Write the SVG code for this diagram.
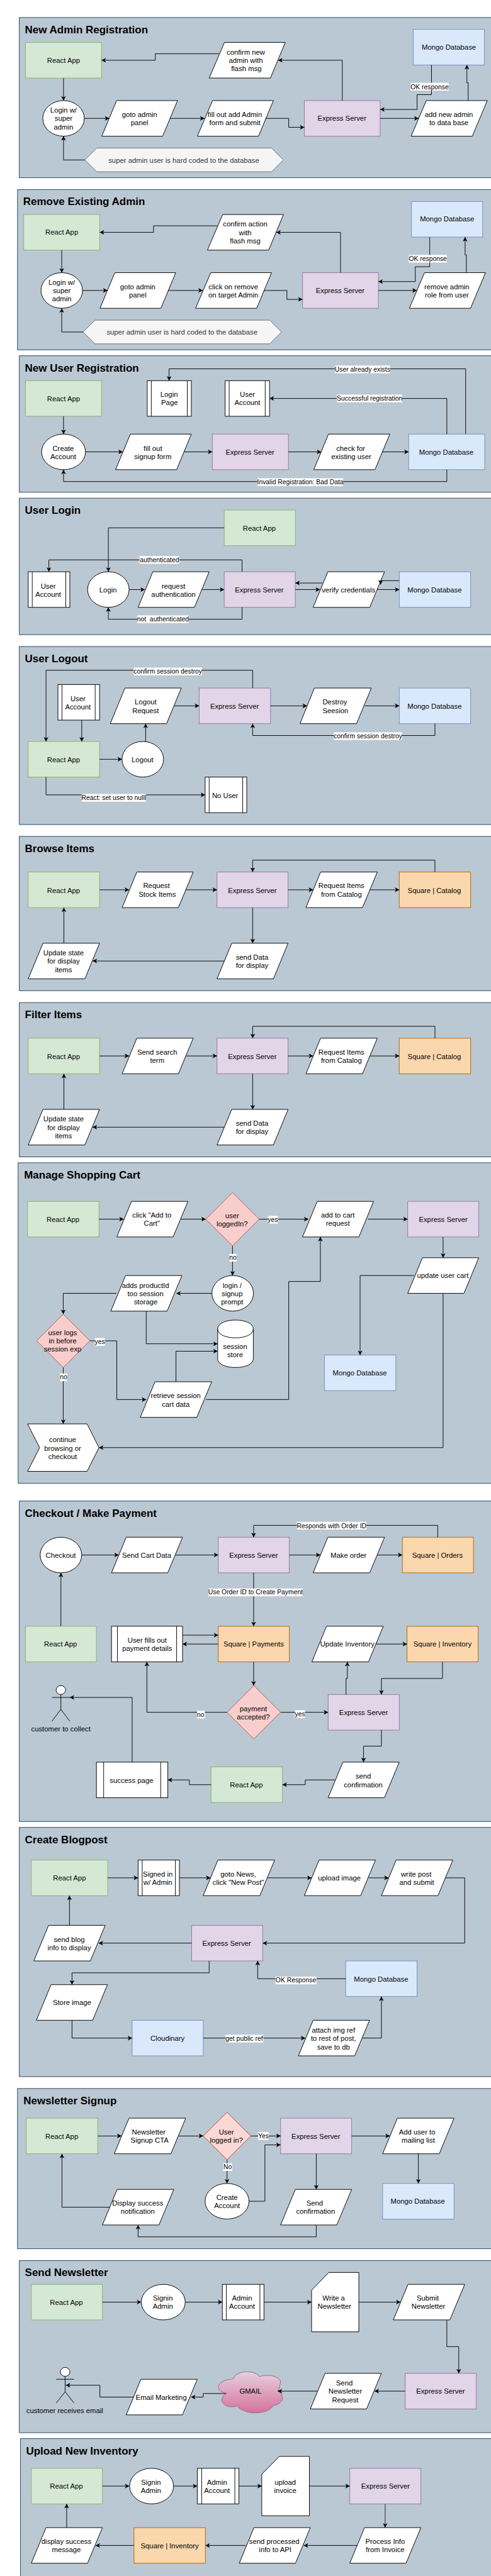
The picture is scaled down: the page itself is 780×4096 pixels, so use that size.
<svg xmlns="http://www.w3.org/2000/svg" width="780" height="4096" viewBox="0 0 780 4096">
<style>
text{font-family:"Liberation Sans",Arial,sans-serif;font-size:12px;fill:#000;text-anchor:middle}
.h{font-size:18px;font-weight:bold;text-anchor:start}
.lt{font-size:11px;white-space:pre}
.lb{fill:#fff;stroke:none}
.panel{fill:#bac8d3;stroke:#23445d;stroke-width:1}
.react{fill:#d5e8d4;stroke:#82b366}
.express{fill:#e1d5e7;stroke:#9673a6}
.mongo{fill:#dae8fc;stroke:#6c8ebf}
.square{fill:#fad7ac;stroke:#b46504}
.dia{fill:#f8cecc;stroke:#b85450}
.w{fill:#fff;stroke:#000}
.hex{fill:#f5f5f5;stroke:#666}
.hext{fill:#333}
.cn path{fill:none;stroke:#000;stroke-width:1;marker-end:url(#a)}
.act{fill:none;stroke:#000}
</style>
<defs>
<marker id="a" markerUnits="userSpaceOnUse" markerWidth="10" markerHeight="10" refX="8" refY="4.5" orient="auto"><path d="M0.5 0.5L8 4.5L0.5 8.5L2.5 4.5Z" fill="#000"/></marker>
<linearGradient id="gm" x1="0" y1="0" x2="0" y2="1"><stop offset="0" stop-color="#e6d0de"/><stop offset="1" stop-color="#d5739d"/></linearGradient>
</defs>
<g transform="scale(0.94317 0.94356)">

<g id="panels">
<rect class="panel" x="32.5" y="29.5" width="810" height="270"/><text class="h" x="42" y="56">New Admin Registration</text>
<rect class="panel" x="29.5" y="319.5" width="810" height="270"/><text class="h" x="39" y="346">Remove Existing Admin</text>
<rect class="panel" x="32.5" y="599.5" width="810" height="230"/><text class="h" x="42" y="626">New User Registration</text>
<rect class="panel" x="32.5" y="839.5" width="810" height="230"/><text class="h" x="42" y="866">User Login</text>
<rect class="panel" x="32.5" y="1089.5" width="810" height="300"/><text class="h" x="42" y="1116">User Logout</text>
<rect class="panel" x="32.5" y="1409.5" width="810" height="260"/><text class="h" x="42" y="1436">Browse Items</text>
<rect class="panel" x="32.5" y="1689.5" width="810" height="260"/><text class="h" x="42" y="1716">Filter Items</text>
<rect class="panel" x="30.5" y="1959.5" width="810" height="540"/><text class="h" x="40.5" y="1986">Manage Shopping Cart</text>
<rect class="panel" x="32.5" y="2529.5" width="810" height="540"/><text class="h" x="42" y="2556">Checkout / Make Payment</text>
<rect class="panel" x="32.5" y="3079.5" width="810" height="420"/><text class="h" x="42" y="3106">Create Blogpost</text>
<rect class="panel" x="29.5" y="3519.5" width="810" height="270"/><text class="h" x="39.5" y="3546">Newsletter Signup</text>
<rect class="panel" x="32.5" y="3809.5" width="810" height="290"/><text class="h" x="42" y="3836">Send Newsletter</text>
<rect class="panel" x="34.5" y="4109.5" width="810" height="260"/><text class="h" x="44" y="4136">Upload New Inventory</text>
</g>

<!-- New Admin Registration -->
<g id="a1-react"><rect class="react" x="43" y="71.5" width="128" height="60"/><text x="107" y="105.5">React App</text></g>
<g id="a1-mongo"><rect class="mongo" x="696" y="49.5" width="120" height="60"/><text x="756" y="83.5">Mongo Database</text></g>
<g id="a1-login"><ellipse class="w" cx="107" cy="199.5" rx="35" ry="30"/><text x="107" y="190">Login w/<tspan x="107" dy="14">super</tspan><tspan x="107" dy="14">admin</tspan></text></g>
<g id="a1-goto"><polygon class="w" points="196.4,169.5 299,169.5 274,229.5 171.4,229.5"/><text x="235" y="197">goto admin<tspan x="235" dy="14">panel</tspan></text></g>
<g id="a1-fill"><polygon class="w" points="358,169.5 460.4,169.5 435.4,229.5 332.4,229.5"/><text x="395.6" y="197">fill out add Admin<tspan x="395.6" dy="14">form and submit</tspan></text></g>
<g id="a1-express"><rect class="express" x="512.6" y="169.5" width="127.7" height="60"/><text x="576" y="204">Express Server</text></g>
<g id="a1-add"><polygon class="w" points="718,169.5 820.7,169.5 795.5,229.5 692.5,229.5"/><text x="756" y="197">add new admin<tspan x="756" dy="14">to data base</tspan></text></g>
<g id="a1-confirm"><polygon class="w" points="378,71.5 480.5,71.5 455.5,131.5 352.3,131.5"/><text x="414" y="92">confirm new<tspan x="414" dy="14">admin with</tspan><tspan x="415" dy="14">flash msg</tspan></text></g>
<g id="a1-hex"><polygon class="hex" points="163,249.5 457.5,249.5 477.3,269.5 457.5,289.5 163,289.5 143,269.5"/><text class="hext" x="309.6" y="274">super admin user is hard coded to the database</text></g>

<!-- Remove Existing Admin -->
<g id="a2-react"><rect class="react" x="40" y="361.5" width="128" height="60"/><text x="104" y="395.5">React App</text></g>
<g id="a2-mongo"><rect class="mongo" x="693" y="339.5" width="120" height="60"/><text x="753" y="373.5">Mongo Database</text></g>
<g id="a2-login"><ellipse class="w" cx="104" cy="489.5" rx="35" ry="30"/><text x="104" y="480">Login w/<tspan x="104" dy="14">super</tspan><tspan x="104" dy="14">admin</tspan></text></g>
<g id="a2-goto"><polygon class="w" points="193.4,459.5 296,459.5 271,519.5 168.4,519.5"/><text x="232" y="487">goto admin<tspan x="232" dy="14">panel</tspan></text></g>
<g id="a2-click"><polygon class="w" points="355,459.5 457.4,459.5 432.4,519.5 329.4,519.5"/><text x="393" y="487">click on remove<tspan x="393" dy="14">on target Admin</tspan></text></g>
<g id="a2-express"><rect class="express" x="509.6" y="459.5" width="127.7" height="60"/><text x="573" y="494">Express Server</text></g>
<g id="a2-remove"><polygon class="w" points="715,459.5 817.7,459.5 792.5,519.5 689.5,519.5"/><text x="752.6" y="487">remove admin<tspan x="752.6" dy="14">role from user</tspan></text></g>
<g id="a2-confirm"><polygon class="w" points="375,361.5 477.5,361.5 452.5,421.5 349.3,421.5"/><text x="413" y="382">confirm action<tspan x="413" dy="14">with</tspan><tspan x="413" dy="14">flash msg</tspan></text></g>
<g id="a2-hex"><polygon class="hex" points="160,539.5 454.5,539.5 474.3,559.5 454.5,579.5 160,579.5 140,559.5"/><text class="hext" x="306.6" y="564">super admin user is hard coded to the database</text></g>

<!-- New User Registration -->
<g id="u1-react"><rect class="react" x="43" y="641.5" width="128" height="60"/><text x="107" y="676">React App</text></g>
<g id="u1-loginpage"><rect class="w" x="248" y="641.5" width="74.3" height="60"/><path class="w" d="M254.8 641.5V701.5M315.4 641.5V701.5"/><text x="284.8" y="669">Login<tspan x="285.5" dy="14">Page</tspan></text></g>
<g id="u1-account"><rect class="w" x="379.2" y="641.5" width="74.8" height="60"/><path class="w" d="M386 641.5V701.5M446.7 641.5V701.5"/><text x="416.7" y="669">User<tspan x="416.7" dy="14">Account</tspan></text></g>
<g id="u1-create"><ellipse class="w" cx="107" cy="761.5" rx="37" ry="30"/><text x="106.5" y="759.5">Create<tspan x="106.5" dy="14">Account</tspan></text></g>
<g id="u1-fill"><polygon class="w" points="219.6,731.5 322.3,731.5 297.5,791.5 194.6,791.5"/><text x="257.4" y="759.5">fill out<tspan x="257.4" dy="14">signup form</tspan></text></g>
<g id="u1-express"><rect class="express" x="357.6" y="731.5" width="128.2" height="60"/><text x="421" y="766">Express Server</text></g>
<g id="u1-check"><polygon class="w" points="553.3,731.5 656.6,731.5 631.6,791.5 528.5,791.5"/><text x="590.7" y="759.5">check for<tspan x="591.7" dy="14">existing user</tspan></text></g>
<g id="u1-mongo"><rect class="mongo" x="688.3" y="731.5" width="128.2" height="60"/><text x="751.6" y="766">Mongo Database</text></g>

<!-- User Login -->
<g id="u2-react"><rect class="react" x="377.6" y="859.5" width="119.8" height="60"/><text x="436.7" y="894">React App</text></g>
<g id="u2-account"><rect class="w" x="47.5" y="963.5" width="70.1" height="60"/><path class="w" d="M54.3 963.5V1023.5M110.8 963.5V1023.5"/><text x="81.2" y="991.5">User<tspan x="81.2" dy="14">Account</tspan></text></g>
<g id="u2-login"><ellipse class="w" cx="182.5" cy="993.5" rx="35" ry="30"/><text x="182" y="998">Login</text></g>
<g id="u2-request"><polygon class="w" points="257.4,963.5 352.3,963.5 327.5,1023.5 232.6,1023.5"/><text x="292.2" y="991.5">request<tspan x="292.2" dy="14">authentication</tspan></text></g>
<g id="u2-express"><rect class="express" x="377.6" y="963.5" width="119.8" height="60"/><text x="436.7" y="998">Express Server</text></g>
<g id="u2-verify"><polygon class="w" points="552.2,963.5 647.7,963.5 622.7,1023.5 527.4,1023.5"/><text x="587" y="998">verify credentials</text></g>
<g id="u2-mongo"><rect class="mongo" x="672.5" y="963.5" width="120.2" height="60"/><text x="732" y="998">Mongo Database</text></g>

<!-- User Logout -->
<g id="u3-account"><rect class="w" x="97.6" y="1153.5" width="70.1" height="60"/><path class="w" d="M104.4 1153.5V1213.5M160.3 1153.5V1213.5"/><text x="131.3" y="1181.5">User<tspan x="131.3" dy="14">Account</tspan></text></g>
<g id="u3-logoutreq"><polygon class="w" points="210.4,1159.5 305.4,1159.5 280.5,1219.5 185.7,1219.5"/><text x="245.3" y="1187.5">Logout<tspan x="245.3" dy="14">Request</tspan></text></g>
<g id="u3-express"><rect class="express" x="335.4" y="1159.5" width="120.3" height="60"/><text x="395" y="1194.5">Express Server</text></g>
<g id="u3-destroy"><polygon class="w" points="529.5,1159.5 625.5,1159.5 600.5,1219.5 505.3,1219.5"/><text x="564" y="1187.5">Destroy<tspan x="565" dy="14">Seesion</tspan></text></g>
<g id="u3-mongo"><rect class="mongo" x="672.5" y="1159.5" width="120.2" height="60"/><text x="732" y="1194.5">Mongo Database</text></g>
<g id="u3-react"><rect class="react" x="47.5" y="1249.5" width="120.2" height="60"/><text x="107" y="1284.5">React App</text></g>
<g id="u3-logout"><ellipse class="w" cx="240.5" cy="1279.5" rx="35" ry="30"/><text x="240" y="1284.5">Logout</text></g>
<g id="u3-nouser"><rect class="w" x="345.5" y="1309.5" width="70.1" height="60"/><path class="w" d="M352.3 1309.5V1369.5M408.8 1309.5V1369.5"/><text x="379.2" y="1344.5">No User</text></g>

<!-- Browse Items -->
<g id="b-react"><rect class="react" x="47.5" y="1469.5" width="120.2" height="60"/><text x="107" y="1504.5">React App</text></g>
<g id="b-request"><polygon class="w" points="230.5,1469.5 325.4,1469.5 300.5,1529.5 205.7,1529.5"/><text x="263.5" y="1497">Request<tspan x="264.8" dy="14">Stock Items</tspan></text></g>
<g id="b-express"><rect class="express" x="365.5" y="1469.5" width="119.7" height="60"/><text x="425" y="1504.5">Express Server</text></g>
<g id="b-items"><polygon class="w" points="540,1469.5 635.5,1469.5 610.5,1529.5 515.3,1529.5"/><text x="575" y="1497">Request Items<tspan x="575" dy="14">from Catalog</tspan></text></g>
<g id="b-square"><rect class="square" x="672.5" y="1469.5" width="120.2" height="60"/><text x="731.5" y="1504.5">Square | Catalog</text></g>
<g id="b-update"><polygon class="w" points="72.3,1589.5 167.7,1589.5 143,1649.5 47.5,1649.5"/><text x="107" y="1610">Update state<tspan x="107" dy="14">for display</tspan><tspan x="107" dy="14">items</tspan></text></g>
<g id="b-send"><polygon class="w" points="390.3,1589.5 485.2,1589.5 460.5,1649.5 365.5,1649.5"/><text x="424.6" y="1617">send Data<tspan x="424.6" dy="14">for display</tspan></text></g>

<!-- Filter Items -->
<g id="f-react"><rect class="react" x="47.5" y="1749.5" width="120.2" height="60"/><text x="107" y="1784.5">React App</text></g>
<g id="f-search"><polygon class="w" points="230.5,1749.5 325.4,1749.5 300.5,1809.5 205.7,1809.5"/><text x="264.8" y="1777">Send search<tspan x="264.8" dy="14">term</tspan></text></g>
<g id="f-express"><rect class="express" x="365.5" y="1749.5" width="119.7" height="60"/><text x="425" y="1784.5">Express Server</text></g>
<g id="f-items"><polygon class="w" points="540,1749.5 635.5,1749.5 610.5,1809.5 515.3,1809.5"/><text x="575" y="1777">Request Items<tspan x="575" dy="14">from Catalog</tspan></text></g>
<g id="f-square"><rect class="square" x="672.5" y="1749.5" width="120.2" height="60"/><text x="731.5" y="1784.5">Square | Catalog</text></g>
<g id="f-update"><polygon class="w" points="72.3,1869.5 167.7,1869.5 143,1929.5 47.5,1929.5"/><text x="107" y="1890">Update state<tspan x="107" dy="14">for display</tspan><tspan x="107" dy="14">items</tspan></text></g>
<g id="f-send"><polygon class="w" points="390.3,1869.5 485.2,1869.5 460.5,1929.5 365.5,1929.5"/><text x="424.6" y="1897">send Data<tspan x="424.6" dy="14">for display</tspan></text></g>

<!-- Manage Shopping Cart -->
<g id="c-react"><rect class="react" x="46.4" y="2024.5" width="120.3" height="60"/><text x="106" y="2059">React App</text></g>
<g id="c-click"><polygon class="w" points="221.5,2024.5 316.5,2024.5 291.5,2084.5 196.7,2084.5"/><text x="255.8" y="2052">click "Add to<tspan x="255.8" dy="14">Cart"</tspan></text></g>
<g id="c-logged"><polygon class="dia" points="391.6,2009.5 436.7,2054.5 391.6,2099.5 346.5,2054.5"/><text x="391" y="2053">user<tspan x="391" dy="14">loggedIn?</tspan></text></g>
<g id="c-add"><polygon class="w" points="534.3,2024.5 629.2,2024.5 604.5,2084.5 509.5,2084.5"/><text x="569" y="2052">add to cart<tspan x="569" dy="14">request</tspan></text></g>
<g id="c-express"><rect class="express" x="686.7" y="2024.5" width="119.7" height="60"/><text x="746.5" y="2059">Express Server</text></g>
<g id="c-update"><polygon class="w" points="711.5,2119.5 806.4,2119.5 781.5,2179.5 686.7,2179.5"/><text x="745.8" y="2154">update user cart</text></g>
<g id="c-prompt"><ellipse class="w" cx="391.9" cy="2179.5" rx="35" ry="30"/><text x="391" y="2170.5">login /<tspan x="391" dy="14">signup</tspan><tspan x="391" dy="14">prompt</tspan></text></g>
<g id="c-adds"><polygon class="w" points="211.5,2149.5 306.4,2149.5 281.5,2209.5 186.7,2209.5"/><text x="245" y="2170.5">adds productId<tspan x="245" dy="14">too session</tspan><tspan x="245.5" dy="14">storage</tspan></text></g>
<g id="c-store"><path class="w" d="M366.6 2239.5C366.6 2219.5 426.7 2219.5 426.7 2239.5V2289.5C426.7 2309.5 366.6 2309.5 366.6 2289.5Z"/><path class="w" fill="none" style="fill:none" d="M366.6 2239.5C366.6 2259.5 426.7 2259.5 426.7 2239.5"/><text x="396" y="2273.5">session<tspan x="396" dy="14">store</tspan></text></g>
<g id="c-logs"><polygon class="dia" points="106.5,2214.5 151.4,2259.5 106.5,2304.5 61.7,2259.5"/><text x="105.5" y="2250">user logs<tspan x="105.5" dy="14">in before</tspan><tspan x="105.5" dy="14">session exp</tspan></text></g>
<g id="c-retrieve"><polygon class="w" points="261,2328.5 356.5,2328.5 331.5,2388.5 236.3,2388.5"/><text x="296" y="2356.5">retrieve session<tspan x="296" dy="14">cart data</tspan></text></g>
<g id="c-mongo"><rect class="mongo" x="546.4" y="2283.5" width="120.3" height="60"/><text x="606" y="2318">Mongo Database</text></g>
<g id="c-continue"><polygon class="w" points="46.4,2399.5 146.6,2399.5 166.7,2439.5 146.6,2479.5 46.4,2479.5 66.8,2439.5"/><text x="105.5" y="2430.5">continue<tspan x="105.5" dy="14">browsing or</tspan><tspan x="105.5" dy="14">checkout</tspan></text></g>

<!-- Checkout / Make Payment -->
<g id="p-checkout"><ellipse class="w" cx="102.6" cy="2620.5" rx="35" ry="30"/><text x="102.3" y="2625">Checkout</text></g>
<g id="p-send"><polygon class="w" points="212.6,2590.5 307.5,2590.5 282.5,2650.5 187.8,2650.5"/><text x="247" y="2625">Send Cart Data</text></g>
<g id="p-express"><rect class="express" x="367.6" y="2590.5" width="119.7" height="60"/><text x="427.2" y="2625">Express Server</text></g>
<g id="p-make"><polygon class="w" points="552.2,2590.5 647.7,2590.5 622.7,2650.5 527.4,2650.5"/><text x="587" y="2625">Make order</text></g>
<g id="p-orders"><rect class="square" x="677.7" y="2590.5" width="119.8" height="60"/><text x="736.8" y="2625">Square | Orders</text></g>
<g id="p-react"><rect class="react" x="42.7" y="2740.5" width="119.7" height="60"/><text x="102" y="2775">React App</text></g>
<g id="p-fills"><rect class="w" x="187.8" y="2740.5" width="119.7" height="60"/><path class="w" d="M197.8 2740.5V2800.5M297.5 2740.5V2800.5"/><text x="248" y="2768.5">User fills out<tspan x="248" dy="14">payment details</tspan></text></g>
<g id="p-payments"><rect class="square" x="367.6" y="2740.5" width="119.7" height="60"/><text x="427.2" y="2775">Square | Payments</text></g>
<g id="p-update"><polygon class="w" points="550,2740.5 645.6,2740.5 620.6,2800.5 525.3,2800.5"/><text x="585" y="2775">Update Inventory</text></g>
<g id="p-inventory"><rect class="square" x="685.6" y="2740.5" width="119.8" height="60"/><text x="745.3" y="2775">Square | Inventory</text></g>
<g id="p-customer"><ellipse class="w" cx="102.5" cy="2848" rx="8" ry="7.5"/><path class="act" d="M102.5 2855.5V2880.5M87.5 2860.5H117.5M102.5 2880.5L87.5 2900.5M102.5 2880.5L117.5 2900.5"/><text x="102.5" y="2918">customer to collect</text></g>
<g id="p-accepted"><polygon class="dia" points="427.5,2840.5 472.6,2885.5 427.5,2930.5 382.4,2885.5"/><text x="426.7" y="2883.5">payment<tspan x="426.7" dy="14">accepted?</tspan></text></g>
<g id="p-express2"><rect class="express" x="552.7" y="2855.5" width="119.8" height="60"/><text x="612.3" y="2890">Express Server</text></g>
<g id="p-success"><rect class="w" x="162.4" y="2969.5" width="120.3" height="60"/><path class="w" d="M174.6 2969.5V3029.5M270.6 2969.5V3029.5"/><text x="221.5" y="3004.5">success page</text></g>
<g id="p-react2"><rect class="react" x="355.5" y="2977.5" width="120.2" height="60"/><text x="415" y="3012">React App</text></g>
<g id="p-confirm"><polygon class="w" points="577.5,2969.5 672.5,2969.5 647.5,3029.5 552.7,3029.5"/><text x="611.8" y="2997.5">send<tspan x="611.8" dy="14">confirmation</tspan></text></g>

<!-- Create Blogpost -->
<g id="g-react"><rect class="react" x="52.7" y="3134.5" width="128.7" height="60"/><text x="117" y="3169">React App</text></g>
<g id="g-signed"><rect class="w" x="232.6" y="3134.5" width="69.6" height="60"/><path class="w" d="M239.5 3134.5V3194.5M295.4 3134.5V3194.5"/><text x="265.8" y="3162">Signed in<tspan x="265.8" dy="14">w/ Admin</tspan></text></g>
<g id="g-goto"><polygon class="w" points="367,3134.5 462.6,3134.5 437.6,3194.5 342.3,3194.5"/><text x="401.4" y="3162">goto News,<tspan x="401.4" dy="14">click "New Post"</tspan></text></g>
<g id="g-upload"><polygon class="w" points="537.4,3134.5 632.4,3134.5 607.4,3194.5 512.6,3194.5"/><text x="571.7" y="3169">upload image</text></g>
<g id="g-write"><polygon class="w" points="667.2,3134.5 762.7,3134.5 737.7,3194.5 642.4,3194.5"/><text x="701" y="3162">write post<tspan x="702" dy="14">and submit</tspan></text></g>
<g id="g-express"><rect class="express" x="322.8" y="3244.5" width="119.7" height="60"/><text x="381.9" y="3279">Express Server</text></g>
<g id="g-send"><polygon class="w" points="81.8,3244.5 177.2,3244.5 152.2,3304.5 57,3304.5"/><text x="116.6" y="3272.5">send blog<tspan x="116.6" dy="14">info to display</tspan></text></g>
<g id="g-store"><polygon class="w" points="86,3344.5 181,3344.5 156,3404.5 61.2,3404.5"/><text x="121.3" y="3379">Store image</text></g>
<g id="g-mongo"><rect class="mongo" x="582.3" y="3304.5" width="120.2" height="60"/><text x="641.9" y="3339">Mongo Database</text></g>
<g id="g-cloud"><rect class="mongo" x="222.6" y="3404.5" width="119.7" height="60"/><text x="282.2" y="3439">Cloudinary</text></g>
<g id="g-attach"><polygon class="w" points="527.4,3404.5 622.4,3404.5 597.4,3464.5 502.6,3464.5"/><text x="561.7" y="3425.5">attach img ref<tspan x="561.7" dy="14">to rest of post,</tspan><tspan x="561.7" dy="14">save to db</tspan></text></g>

<!-- Newsletter Signup -->
<g id="n-react"><rect class="react" x="44.3" y="3569.5" width="120.3" height="60"/><text x="104" y="3604">React App</text></g>
<g id="n-cta"><polygon class="w" points="217.3,3569.5 312.8,3569.5 287.8,3629.5 192.5,3629.5"/><text x="250.5" y="3597">Newsletter<tspan x="252" dy="14">Signup CTA</tspan></text></g>
<g id="n-logged"><polygon class="dia" style="fill:#fad9d5;stroke:#ae4132" points="382.4,3559.5 422.5,3599.5 382.4,3639.5 342.3,3599.5"/><text x="381.3" y="3597">User<tspan x="381.3" dy="14">logged in?</tspan></text></g>
<g id="n-express"><rect class="express" x="472.6" y="3569.5" width="119.7" height="60"/><text x="532" y="3604">Express Server</text></g>
<g id="n-add"><polygon class="w" points="669.3,3569.5 764.8,3569.5 739.8,3629.5 644.5,3629.5"/><text x="702.5" y="3597">Add user to<tspan x="704.5" dy="14">mailing list</tspan></text></g>
<g id="n-mongo"><rect class="mongo" x="644.5" y="3679.5" width="120.3" height="60"/><text x="703.6" y="3714">Mongo Database</text></g>
<g id="n-create"><ellipse class="w" cx="382.4" cy="3709.5" rx="37" ry="30"/><text x="382.4" y="3707">Create<tspan x="382.4" dy="14">Account</tspan></text></g>
<g id="n-confirm"><polygon class="w" points="497.4,3689.5 592.3,3689.5 567.3,3749.5 472.6,3749.5"/><text x="530" y="3717">Send<tspan x="531.6" dy="14">confirmation</tspan></text></g>
<g id="n-display"><polygon class="w" points="197.3,3689.5 292.7,3689.5 267.7,3749.5 172.5,3749.5"/><text x="232" y="3717">Display success<tspan x="232" dy="14">notification</tspan></text></g>

<!-- Send Newsletter -->
<g id="s-react"><rect class="react" x="52.7" y="3849.5" width="119.8" height="60"/><text x="111.8" y="3884">React App</text></g>
<g id="s-signin"><ellipse class="w" cx="275" cy="3879.5" rx="37" ry="30"/><text x="274.3" y="3877">Signin<tspan x="274.3" dy="14">Admin</tspan></text></g>
<g id="s-account"><rect class="w" x="374.5" y="3849.5" width="70.1" height="60"/><path class="w" d="M381.3 3849.5V3909.5M437.8 3849.5V3909.5"/><text x="407.7" y="3877">Admin<tspan x="407.7" dy="14">Account</tspan></text></g>
<g id="s-write"><polygon class="w" points="553.8,3829.5 604.4,3829.5 604.4,3929.5 524.8,3929.5 524.8,3859.5"/><text x="562" y="3877">Write a<tspan x="563.3" dy="14">Newsletter</tspan></text></g>
<g id="s-submit"><polygon class="w" points="687.2,3849.5 782.7,3849.5 757.7,3909.5 662.4,3909.5"/><text x="720.5" y="3877">Submit<tspan x="721.5" dy="14">Newsletter</tspan></text></g>
<g id="s-express"><rect class="express" x="682.5" y="3999.5" width="119.7" height="60"/><text x="742" y="4034">Express Server</text></g>
<g id="s-request"><polygon class="w" points="547.5,3999.5 642.4,3999.5 617.4,4059.5 522.7,4059.5"/><text x="580" y="4020">Send<tspan x="581.5" dy="14">Newsletter</tspan><tspan x="581.5" dy="14">Request</tspan></text></g>
<g id="s-gmail"><path d="M393 4009C394 3998 425 3990 437 4005C450 4000 476 4004 472 4017C471 4022 470 4026 468 4029C477 4033 482 4050 460 4054C452 4069 412 4071 399 4054C385 4061 362 4048 381 4033C362 4030 362 4011 393 4009Z" fill="url(#gm)" stroke="#996185"/><text x="422" y="4034">GMAIL</text></g>
<g id="s-email"><polygon class="w" points="237.3,4009.5 332.3,4009.5 307.3,4069.5 212.6,4069.5"/><text x="271.6" y="4044.5">Email Marketing</text></g>
<g id="s-customer"><ellipse class="w" cx="109.7" cy="3997" rx="8" ry="7.5"/><path class="act" d="M109.7 4004.5V4030.5M94.7 4009.5H124.7M109.7 4030.5L94.7 4049.5M109.7 4030.5L124.7 4049.5"/><text x="109" y="4067">customer receives email</text></g>

<!-- Upload New Inventory -->
<g id="i-react"><rect class="react" x="52.7" y="4159.5" width="119.8" height="60"/><text x="111.8" y="4194">React App</text></g>
<g id="i-signin"><ellipse class="w" cx="255.3" cy="4189.5" rx="37" ry="30"/><text x="254.2" y="4187">Signin<tspan x="254.2" dy="14">Admin</tspan></text></g>
<g id="i-account"><rect class="w" x="332.3" y="4159.5" width="70.1" height="60"/><path class="w" d="M339.7 4159.5V4219.5M395.6 4159.5V4219.5"/><text x="365.5" y="4187">Admin<tspan x="365.5" dy="14">Account</tspan></text></g>
<g id="i-upload"><polygon class="w" points="470.5,4139.5 521.1,4139.5 521.1,4239.5 440.9,4239.5 440.9,4169.5"/><text x="480.5" y="4187">upload<tspan x="480.5" dy="14">invoice</tspan></text></g>
<g id="i-express"><rect class="express" x="589.1" y="4159.5" width="119.8" height="60"/><text x="649.3" y="4194">Express Server</text></g>
<g id="i-process"><polygon class="w" points="614,4259.5 708.9,4259.5 684,4319.5 589.1,4319.5"/><text x="648.7" y="4287">Process Info<tspan x="648.7" dy="14">from Invoice</tspan></text></g>
<g id="i-send"><polygon class="w" points="427.7,4259.5 522.7,4259.5 497.7,4319.5 403,4319.5"/><text x="462" y="4287">send processed<tspan x="463.5" dy="14">info to API</tspan></text></g>
<g id="i-inventory"><rect class="square" x="225.7" y="4259.5" width="120.3" height="60"/><text x="285.9" y="4294">Square | Inventory</text></g>
<g id="i-display"><polygon class="w" points="77.5,4259.5 172.5,4259.5 147.5,4319.5 52.7,4319.5"/><text x="111.8" y="4287">display success<tspan x="111.8" dy="14">message</tspan></text></g>

<g id="connectors" class="cn">
<!-- admin 1 -->
<path d="M107 131.5V169.5"/><path d="M142 199.5H184"/><path d="M286.4 199.5H344.4"/><path d="M447.3 199.5H486.3V214.5H512.6"/><path d="M640.3 199.5H705"/><path d="M788.5 169.5V139.5H786.4V109.5"/><path d="M726.8 109.5V159.5H702.5V184.5H640.3"/><path d="M576.5 169.5V101.5H468.4"/><path d="M369 90.5H261.6V101.5H171"/><path d="M143 269.5H107V229.5"/>
<!-- admin 2 -->
<path d="M104 421.5V459.5"/><path d="M139 489.5H181"/><path d="M283.4 489.5H341.4"/><path d="M444.3 489.5H483.3V504.5H509.6"/><path d="M637.3 489.5H702"/><path d="M785.5 459.5V429.5H783.4V399.5"/><path d="M723.8 399.5V449.5H699.5V474.5H637.3"/><path d="M573.5 459.5V391.5H465.4"/><path d="M366 380.5H258.6V391.5H168"/><path d="M140 559.5H104V519.5"/>
<!-- new user -->
<path d="M107 701.5V731.5"/><path d="M144 761.5H206.8"/><path d="M310 761.5H357.6"/><path d="M485.8 761.5H541"/><path d="M644.5 761.5H688.3"/><path d="M784.3 731.5V621.5H284.8V641.5"/><path d="M752.6 731.5V671.5H454"/><path d="M752.6 791.5V811.5H107V791.5"/>
<!-- login -->
<path d="M377.6 889.5H182.5V963.5"/><path d="M217.5 993.5H244"/><path d="M340.7 993.5H377.6"/><path d="M497.4 993.5H539"/><path d="M635.5 993.5H672.5"/><path d="M672.5 978.5H641V985"/><path d="M543 982.5H497.4"/><path d="M407.7 963.5V943.5H82.3V963.5"/><path d="M407.7 1023.5V1043.5H182.5V1023.5"/>
<!-- logout -->
<path d="M425.6 1159.5V1129.5H77.5V1249.5"/><path d="M137.7 1213.5V1249.5"/><path d="M293.2 1189.5H335.4"/><path d="M455.7 1189.5H517"/><path d="M614.5 1189.5H672.5"/><path d="M732.6 1219.5V1239.5H425.6V1219.5"/><path d="M167.7 1279.5H205.5"/><path d="M245.3 1249.5V1219.5"/><path d="M77.5 1309.5V1339.5H345.5"/>
<!-- browse -->
<path d="M167.7 1499.5H217.3"/><path d="M313.3 1499.5H365.5"/><path d="M485.2 1499.5H527.4"/><path d="M623.4 1499.5H672.5"/><path d="M732.6 1469.5V1449.5H425.6V1469.5"/><path d="M425.6 1529.5V1589.5"/><path d="M377.6 1619.5H156"/><path d="M107.6 1589.5V1529.5"/>
<!-- filter -->
<path d="M167.7 1779.5H217.3"/><path d="M313.3 1779.5H365.5"/><path d="M485.2 1779.5H527.4"/><path d="M623.4 1779.5H672.5"/><path d="M732.6 1749.5V1729.5H425.6V1749.5"/><path d="M425.6 1809.5V1869.5"/><path d="M377.6 1899.5H156"/><path d="M107.6 1869.5V1809.5"/>
<!-- cart -->
<path d="M166.7 2054.5H208.3"/><path d="M304.9 2054.5H346.5"/><path d="M436.7 2054.5H519.5"/><path d="M619.7 2054.5H686.7"/><path d="M746.3 2084.5V2119.5"/><path d="M697.3 2149.5H606.5V2283.5"/><path d="M746.3 2179.5V2439.5H166.7"/><path d="M391.6 2099.5V2149.5"/><path d="M357 2179.5H297"/><path d="M196.2 2179.5H106.5V2214.5"/><path d="M246.3 2209.5V2264.5H366.6"/><path d="M296.4 2328.5V2277H366.6"/><path d="M151.4 2259.5H196.7V2358.5H246.3"/><path d="M106.5 2304.5V2399.5"/><path d="M347 2358.5H486.3V2159.5H539.6V2084.5"/>
<!-- payment -->
<path d="M137.7 2620.5H200"/><path d="M295.4 2620.5H367.6"/><path d="M487.3 2620.5H539.6"/><path d="M635.5 2620.5H677.7"/><path d="M737.3 2590.5V2570.5H427.2V2590.5"/><path d="M427.2 2650.5V2740.5"/><path d="M102.6 2740.5V2650.5"/><path d="M307.5 2755.5H367.6"/><path d="M367.6 2770.5H307.5"/><path d="M427.2 2800.5V2840.5"/><path d="M472.6 2885.5H552.7"/><path d="M382.4 2885.5H247.4V2800.5"/><path d="M582.8 2855.5V2828.5H585V2800.5"/><path d="M633 2770.5H685.6"/><path d="M745.3 2800.5V2828.5H642.4V2855.5"/><path d="M642.4 2915.5V2942.5H612.3V2969.5"/><path d="M564.3 2999.5H514.2V3007.5H475.7"/><path d="M355.5 3007.5H319V2999.5H282.7"/><path d="M222.6 2969.5V2860.5H117.5"/>
<!-- blog -->
<path d="M181.4 3164.5H232.6"/><path d="M302.2 3164.5H354.4"/><path d="M451 3164.5H524.8"/><path d="M620.8 3164.5H654.5"/><path d="M750.5 3164.5H782.7V3274.5H442.5"/><path d="M322.8 3274.5H166.1"/><path d="M117 3244.5V3194.5"/><path d="M352.3 3304.5V3324.5H121.3V3344.5"/><path d="M121.3 3404.5V3434.5H222.6"/><path d="M342.3 3434.5H514.2"/><path d="M610.8 3434.5H642.4V3364.5"/><path d="M582.3 3334.5H434V3304.5"/>
<!-- newsletter signup -->
<path d="M164.6 3599.5H204.6"/><path d="M300.6 3599.5H342.3"/><path d="M422.5 3599.5H472.6"/><path d="M592.3 3599.5H656.6"/><path d="M704.6 3629.5V3679.5"/><path d="M382.4 3639.5V3679.5"/><path d="M419.4 3709.5H446.2V3614.5H472.6"/><path d="M532.7 3629.5V3689.5"/><path d="M532.7 3749.5V3769.5H232.6V3749.5"/><path d="M184.6 3719.5H104.4V3629.5"/>
<!-- send newsletter -->
<path d="M172.5 3879.5H237.9"/><path d="M312 3879.5H374.5"/><path d="M444.6 3879.5H524.8"/><path d="M604.4 3879.5H674.6"/><path d="M752.6 3909.5V3954.5H772.7V3999.5"/><path d="M682.5 4029.5H630.8"/><path d="M534.8 4029.5H467.8"/><path d="M380.8 4033.5H342.3V4039.5H321.7"/><path d="M225.2 4039.5H168.2V4019.5H110.8"/>
<!-- upload -->
<path d="M172.5 4189.5H217.8"/><path d="M292.3 4189.5H332.3"/><path d="M402.4 4189.5H440.9"/><path d="M521.1 4189.5H589.1"/><path d="M648.7 4219.5V4259.5" style="stroke:#555;stroke-width:1.5"/><path d="M601.3 4289.5H511.6"/><path d="M414 4289.5H346"/><path d="M225.7 4289.5H160.9"/><path d="M112.3 4259.5V4219.5"/>

<g id="labels">
<g><rect class="lb" x="691.6" y="139.5" width="64" height="13"/><text class="lt" x="723.6" y="150">OK response</text></g>
<g><rect class="lb" x="688.6" y="429.5" width="64" height="13"/><text class="lt" x="720.6" y="440">OK response</text></g>
<g><rect class="lb" x="564" y="616" width="93" height="13"/><text class="lt" x="610.5" y="626.2">User already exists</text></g>
<g><rect class="lb" x="567.5" y="665" width="110" height="13"/><text class="lt" x="622.6" y="675">Successful registration</text></g>
<g><rect class="lb" x="433.5" y="806" width="144.5" height="13"/><text class="lt" x="505.8" y="816.3">Invalid Registration: Bad Data</text></g>
<g><rect class="lb" x="235" y="937" width="67" height="13"/><text class="lt" x="268.7" y="947.3">authenticated</text></g>
<g><rect class="lb" x="231" y="1037" width="87" height="13"/><text class="lt" x="274.5" y="1047.3">not  authenticated</text></g>
<g><rect class="lb" x="225.2" y="1125" width="115" height="13"/><text class="lt" x="282.7" y="1135">confirm session destroy</text></g>
<g><rect class="lb" x="562.2" y="1234" width="115" height="13"/><text class="lt" x="619.7" y="1244.3">confirm session destroy</text></g>
<g><rect class="lb" x="137.7" y="1338" width="108" height="13"/><text class="lt" x="191.7" y="1348">React: set user to nulll</text></g>
<g><rect class="lb" x="451" y="2049" width="17" height="13"/><text class="lt" x="459.4" y="2059">yes</text></g>
<g><rect class="lb" x="386.4" y="2113" width="12" height="13"/><text class="lt" x="392.4" y="2123">no</text></g>
<g><rect class="lb" x="159.7" y="2255" width="17" height="13"/><text class="lt" x="168.2" y="2265">yes</text></g>
<g><rect class="lb" x="101" y="2314.5" width="12" height="13"/><text class="lt" x="107" y="2324.5">no</text></g>
<g><rect class="lb" x="500" y="2564.5" width="117" height="13"/><text class="lt" x="558.5" y="2575">Responds with Order ID</text></g>
<g><rect class="lb" x="351" y="2677" width="159" height="13"/><text class="lt" x="430.4" y="2687">Use Order ID to Create Payment</text></g>
<g><rect class="lb" x="496.8" y="2882" width="17" height="13"/><text class="lt" x="505.3" y="2892">yes</text></g>
<g><rect class="lb" x="332" y="2883" width="13" height="13"/><text class="lt" x="338" y="2893">no</text></g>
<g><rect class="lb" x="380" y="3429" width="63.5" height="13"/><text class="lt" x="411.4" y="3439">get public ref</text></g>
<g><rect class="lb" x="464" y="3331" width="69" height="13"/><text class="lt" x="498.4" y="3341">OK Response</text></g>
<g><rect class="lb" x="434.6" y="3593" width="18" height="13"/><text class="lt" x="443.6" y="3603">Yes</text></g>
<g><rect class="lb" x="376" y="3645.5" width="15" height="13"/><text class="lt" x="383.4" y="3655.5">No</text></g>
</g>
</g>
</g>
</svg>
